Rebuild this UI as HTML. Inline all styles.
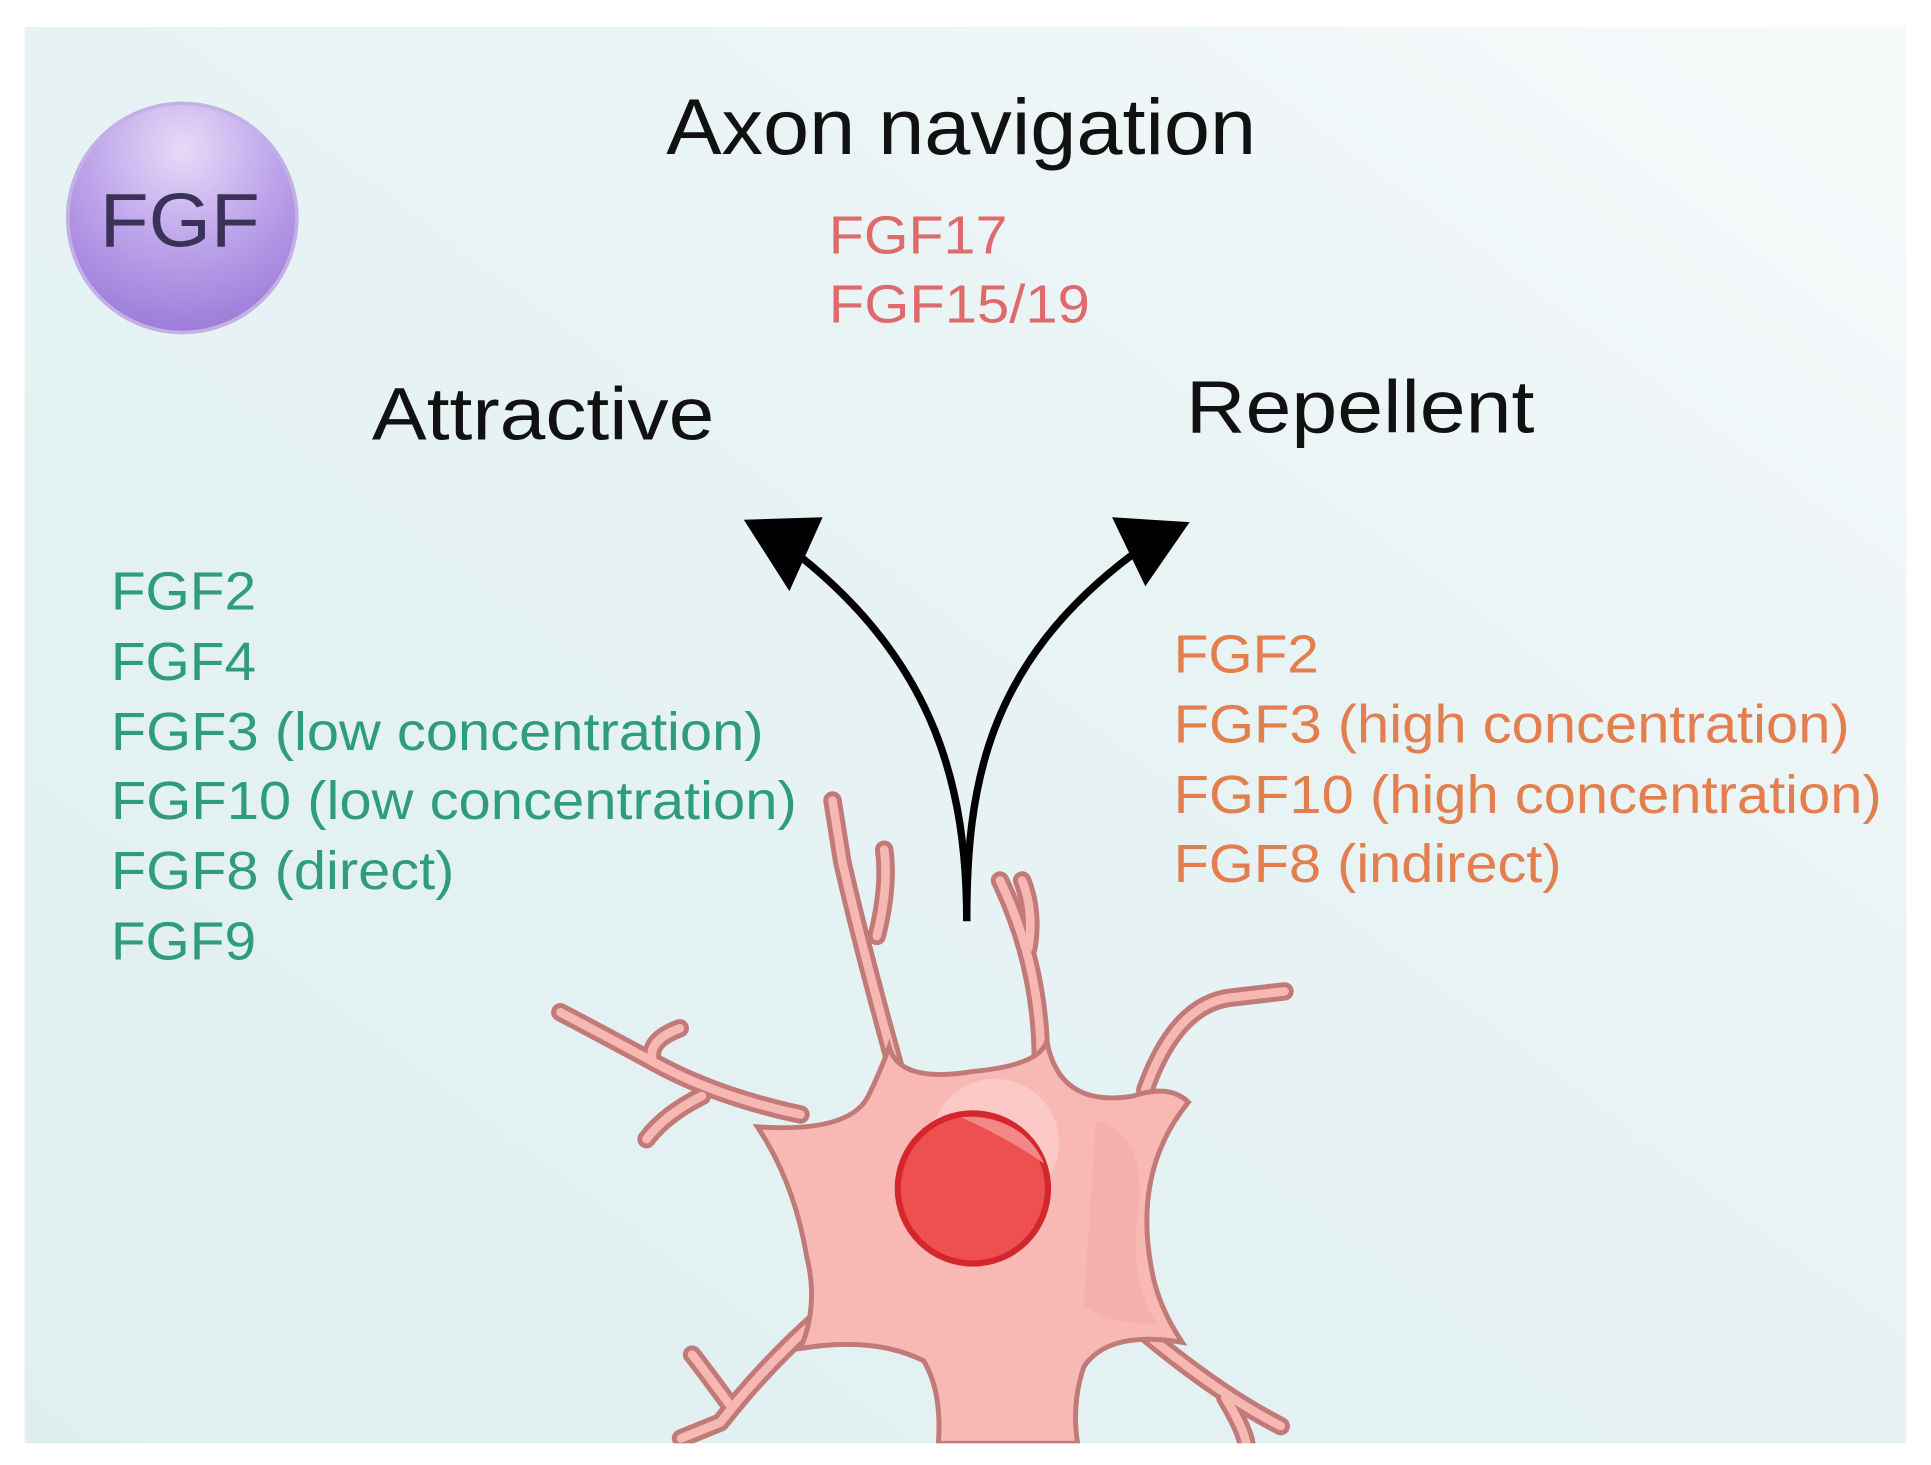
<!DOCTYPE html>
<html><head><meta charset="utf-8"><style>
html,body{margin:0;padding:0;background:#fff;}
svg{display:block;}
text{font-family:"Liberation Sans",Arial,sans-serif;}
</style></head><body>
<svg width="1931" height="1465" viewBox="0 0 1568 1189.6" preserveAspectRatio="none" xmlns="http://www.w3.org/2000/svg">
<defs>
<linearGradient id="bg" x1="0" y1="1" x2="1" y2="0">
<stop offset="0" stop-color="#dfeff0"/><stop offset="0.6" stop-color="#e8f3f4"/><stop offset="1" stop-color="#f7fafb"/>
</linearGradient>
<radialGradient id="fgf" cx="0.5" cy="0.2" r="0.85">
<stop offset="0" stop-color="#e6dbf8"/><stop offset="0.5" stop-color="#bda3ea"/><stop offset="1" stop-color="#9877d6"/>
</radialGradient>
</defs>
<rect x="0" y="0" width="1568" height="1190" fill="#fff"/>
<rect x="20" y="22" width="1528" height="1150" fill="url(#bg)"/>

<circle cx="148" cy="177" r="93" fill="url(#fgf)" stroke="#c3b0e6" stroke-width="3"/>
<text x="146" y="200" font-size="62" fill="#3b3257" text-anchor="middle" textLength="130" lengthAdjust="spacingAndGlyphs">FGF</text>

<text x="541" y="125" font-size="64" fill="#111" textLength="479" lengthAdjust="spacingAndGlyphs">Axon navigation</text>
<text x="673" y="206" font-size="44" fill="#de6a6c" textLength="145" lengthAdjust="spacingAndGlyphs">FGF17</text>
<text x="673" y="262" font-size="44" fill="#de6a6c" textLength="212" lengthAdjust="spacingAndGlyphs">FGF15/19</text>
<text x="302" y="357" font-size="60" fill="#111" textLength="278" lengthAdjust="spacingAndGlyphs">Attractive</text>
<text x="963" y="351" font-size="60" fill="#111" textLength="283" lengthAdjust="spacingAndGlyphs">Repellent</text>

<g font-size="44" fill="#2f9c7c">
<text x="90" y="495" textLength="118" lengthAdjust="spacingAndGlyphs">FGF2</text>
<text x="90" y="552" textLength="118" lengthAdjust="spacingAndGlyphs">FGF4</text>
<text x="90" y="609" textLength="530" lengthAdjust="spacingAndGlyphs">FGF3 (low concentration)</text>
<text x="90" y="665" textLength="557" lengthAdjust="spacingAndGlyphs">FGF10 (low concentration)</text>
<text x="90" y="722" textLength="279" lengthAdjust="spacingAndGlyphs">FGF8 (direct)</text>
<text x="90" y="779" textLength="118" lengthAdjust="spacingAndGlyphs">FGF9</text>
</g>
<g font-size="44" fill="#e37e4e">
<text x="953" y="546" textLength="118" lengthAdjust="spacingAndGlyphs">FGF2</text>
<text x="953" y="603" textLength="549" lengthAdjust="spacingAndGlyphs">FGF3 (high concentration)</text>
<text x="953" y="660" textLength="575" lengthAdjust="spacingAndGlyphs">FGF10 (high concentration)</text>
<text x="953" y="716" textLength="315" lengthAdjust="spacingAndGlyphs">FGF8 (indirect)</text>
</g>

<!-- arrows -->
<g fill="none" stroke="#000" stroke-width="6">
<path d="M785,748 C785,640 760,540 650,452"/>
<path d="M785,748 C785,640 800,540 920,450"/>
</g>
<polygon points="604,422 668,420 641,480" fill="#000"/>
<polygon points="966,424 903,420 930,476" fill="#000"/>

<!-- neuron dendrites -->
<g fill="none" stroke-linecap="round" stroke-linejoin="round">
<g stroke="#c27a78" stroke-width="15">
<path d="M728,870 Q700,770 684,700 L676,650"/>
<path d="M712,760 Q722,720 718,690"/>
<path d="M845,875 Q848,790 812,715"/>
<path d="M835,770 Q840,740 830,715"/>
<path d="M650,905 Q580,890 530,862 Q480,835 455,822"/>
<path d="M530,862 Q525,845 552,835"/>
<path d="M570,890 Q540,905 525,925"/>
<path d="M930,885 Q955,815 1000,810 L1043,805"/>
<path d="M665,1070 Q620,1110 585,1155 L553,1168"/>
<path d="M592,1140 Q570,1110 562,1100"/>
<path d="M915,1070 Q985,1130 1040,1158"/>
<path d="M995,1135 Q1010,1160 1012,1172"/>
</g>
<g stroke="#f7b8b3" stroke-width="7">
<path d="M728,870 Q700,770 684,700 L676,650"/>
<path d="M712,760 Q722,720 718,690"/>
<path d="M845,875 Q848,790 812,715"/>
<path d="M835,770 Q840,740 830,715"/>
<path d="M650,905 Q580,890 530,862 Q480,835 455,822"/>
<path d="M530,862 Q525,845 552,835"/>
<path d="M570,890 Q540,905 525,925"/>
<path d="M930,885 Q955,815 1000,810 L1043,805"/>
<path d="M665,1070 Q620,1110 585,1155 L553,1168"/>
<path d="M592,1140 Q570,1110 562,1100"/>
<path d="M915,1070 Q985,1130 1040,1158"/>
<path d="M995,1135 Q1010,1160 1012,1172"/>
</g>
</g>
<!-- neuron body -->
<path d="M722,850 Q730,880 790,870 Q845,865 850,845 Q860,900 920,890 Q950,880 965,895 Q920,950 935,1030 Q940,1060 960,1090 Q900,1080 880,1110 Q870,1140 875,1172 L762,1172 Q765,1130 750,1105 Q710,1085 650,1095 Q665,1060 655,1020 Q645,960 615,915 Q690,920 705,890 Q715,870 722,850 Z" fill="#f8b9b4" stroke="#c27a78" stroke-width="4"/>
<path d="M890,910 Q930,920 925,980 Q915,1040 940,1075 Q900,1075 880,1060 Z" fill="#f5aaa6" opacity="0.6"/>
<circle cx="808" cy="928" r="52" fill="#fbd0cd" opacity="0.7"/>
<circle cx="790" cy="965" r="61" fill="#ee4f4f" stroke="#d3262d" stroke-width="5"/>
<path d="M780,907 Q830,905 848,945 Q820,925 780,907 Z" fill="#f48787"/>
<rect x="0" y="1172" width="1568" height="18" fill="#fff"/>
</svg>
</body></html>
